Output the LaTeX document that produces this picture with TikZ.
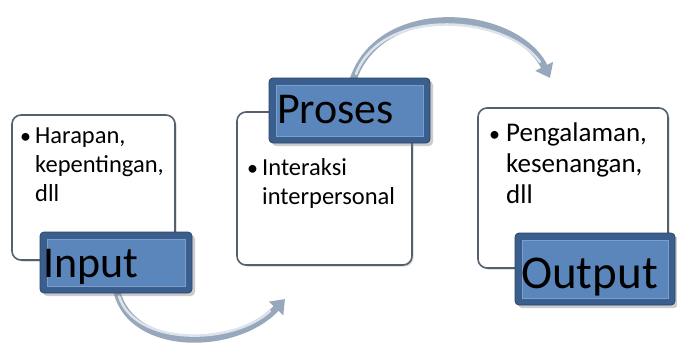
\documentclass[tikz,border=0pt]{standalone}
\usepackage{fontspec}
\setmainfont{Carlito}
\usetikzlibrary{arrows.meta,shadows,positioning}
\definecolor{lblout}{HTML}{3A5F8F}
\definecolor{lblin}{HTML}{5B86BC}
\definecolor{boxedge}{HTML}{55606E}
\definecolor{arrowc}{HTML}{98A8BC}
\definecolor{arrowl}{HTML}{DCE3EC}
\tikzset{
  txtbox/.style={draw=boxedge, line width=1.6pt, fill=white, rounded corners=9pt,
    drop shadow={shadow xshift=1.5pt, shadow yshift=-1.5pt, opacity=0.35}},
  lblouter/.style={draw=lblout!70!black, line width=0.8pt, fill=lblout, rounded corners=4pt,
    drop shadow={shadow xshift=3pt, shadow yshift=-3pt, opacity=0.4}},
  lblinner/.style={fill=lblin, draw=lblin!80!white, line width=0.6pt},
  lbltext/.style={anchor=base west, inner sep=0pt, font=\fontsize{44}{44}\selectfont, text=black},
  bodytext/.style={anchor=base west, inner sep=0pt, font=\fontsize{24.5}{29}\selectfont, text=black},
  bul/.style={anchor=base west, inner sep=0pt, font=\fontsize{22}{28}\selectfont},
  tube/.style={draw=arrowc, line width=7pt, -{Triangle[width=19pt,length=13pt]}},
  tubehl/.style={draw=arrowl, line width=2.5pt, line cap=round}
}
\newcommand{\bodylines}[2]{\parbox[t]{#1}{\raggedright #2}}
\begin{document}
\begin{tikzpicture}[x=1pt,y=-1pt]
\useasboundingbox (0,0) rectangle (677,351);
% text boxes
\draw[txtbox] (12,115) rectangle (175,260);
\draw[txtbox] (237,112) rectangle (412,265);
\draw[txtbox] (478,108) rectangle (668,268);
% body texts
\node[bul] (b1) at (20,143) {\textbullet};
\node[bodytext] (t1) at (35,143) {\bodylines{140pt}{Harapan,\\kepentingan,\\dll}};
\node[bul] (b2) at (247,175) {\textbullet};
\node[bodytext] (t2) at (262,175) {\bodylines{150pt}{Interaksi\\interpersonal}};
\node[bul] (b3) at (489,141) {\textbullet};
\node[bodytext, font=\fontsize{27}{31}\selectfont] (t3) at (506,141) {\bodylines{160pt}{Pengalaman,\\kesenangan,\\dll}};
% arrows
\coordinate (a1s) at (117,292);
\coordinate (a1e) at (285,299);
\coordinate (a2s) at (353,80);
\coordinate (a2e) at (550,78);
\draw[tube] (a1s) .. controls (132,352) and (235,352) .. (a1e);
\draw[tubehl] (119,296) .. controls (134,346) and (232,346) .. (270,311);
\draw[tube] (a2s) .. controls (380,-2) and (515,8) .. (a2e);
\draw[tubehl] (356,74) .. controls (382,6) and (505,14) .. (540,62);
% labels
\draw[lblouter] (40,232) rectangle (192,293);
\fill[lblinner] (47,239) rectangle (185,286);
\node[lbltext] (inp) at (43,277) {Input};
\draw[lblouter] (269,78) rectangle (430,143);
\fill[lblinner] (276,85) rectangle (423,136);
\node[lbltext] (pro) at (277,123) {Proses};
\draw[lblouter] (515,233) rectangle (675,305);
\fill[lblinner] (522,240) rectangle (668,298);
\node[lbltext, font=\fontsize{47}{47}\selectfont] (out) at (521,288) {Output};
\end{tikzpicture}
\end{document}
